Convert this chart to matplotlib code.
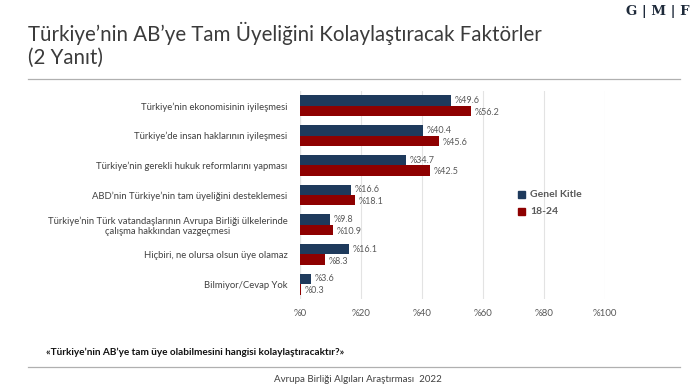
import matplotlib
matplotlib.use("Agg")
import matplotlib.pyplot as plt
import numpy as np

categories = [
    "Türkiye’nin ekonomisinin iyileşmesi",
    "Türkiye’de insan haklarının iyileşmesi",
    "Türkiye’nin gerekli hukuk reformlarını yapması",
    "ABD’nin Türkiye’nin tam üyeliğini desteklemesi",
    "Türkiye’nin Türk vatandaşlarının Avrupa Birliği ülkelerinde\nçalışma hakkından vazgeçmesi",
    "Hiçbiri, ne olursa olsun üye olamaz",
    "Bilmiyor/Cevap Yok",
]
genel_kitle = [49.6, 40.4, 34.7, 16.6, 9.8, 16.1, 3.6]
yas_18_24 = [56.2, 45.6, 42.5, 18.1, 10.9, 8.3, 0.3]
series_names = ["Genel Kitle", "18-24"]
xticks = [0, 20, 40, 60, 80, 100]

plt.rcParams['font.family'] = ['Lato', 'DejaVu Sans']

W, H = 700, 388
fig = plt.figure(figsize=(W/100, H/100), dpi=100)
fig.patch.set_facecolor("white")

navy = "#1e3a5c"
red = "#8e0000"
gray_txt = "#595959"

ax = fig.add_axes([300/W, 1-299/H, 305/W, 208/H])
n = len(categories)
y = np.arange(n)
bh = 0.35
ax.barh(y - bh/2, genel_kitle, height=bh, color=navy, zorder=3)
ax.barh(y + bh/2, yas_18_24, height=bh, color=red, zorder=3)
for i in range(n):
    ax.text(genel_kitle[i] + 1.2, y[i] - bh/2, f"%{genel_kitle[i]}", va="center", ha="left",
            fontsize=6.5, color=gray_txt)
    ax.text(yas_18_24[i] + 1.2, y[i] + bh/2 + 0.05, f"%{yas_18_24[i]}", va="center", ha="left",
            fontsize=6.5, color=gray_txt)
ax.set_ylim(n - 0.5, -0.5)
ax.set_xlim(0, 100)
ax.set_xticks(xticks)
ax.set_xticklabels([f"%{t}" for t in xticks], fontsize=7, color=gray_txt)
ax.set_yticks(y)
ax.set_yticklabels(categories, fontsize=6.8, color="#404040")
ax.tick_params(axis="both", length=0)
ax.tick_params(axis="y", pad=9)
ax.tick_params(axis="x", pad=7)
for lbl in ax.get_yticklabels():
    lbl.set_multialignment("center")
for s in ax.spines.values():
    s.set_visible(False)
ax.grid(axis="x", color="#e3e3e3", linewidth=0.8, zorder=0)
ax.axvline(0, color="#d0d0d0", linewidth=0.8, zorder=1)

# legend
fig.patches.append(plt.Rectangle((518/W, 1-198/H), 7/W, 7/H, transform=fig.transFigure, color=navy))
fig.patches.append(plt.Rectangle((518/W, 1-215/H), 7/W, 7/H, transform=fig.transFigure, color=red))
fig.text(530/W, 1-194.5/H, series_names[0], fontsize=7.5, fontweight="bold", color=gray_txt, va="center")
fig.text(530/W, 1-211.5/H, series_names[1], fontsize=7.5, fontweight="bold", color=gray_txt, va="center")

# title
fig.text(28/W, 1-41/H, "Türkiye’nin AB’ye Tam Üyeliğini Kolaylaştıracak Faktörler",
         fontsize=14.8, color="#3b3b3b", va="baseline", ha="left")
fig.text(28/W, 1-64/H, "(2 Yanıt)",
         fontsize=14.8, color="#3b3b3b", va="baseline", ha="left")
fig.add_artist(plt.Line2D([28/W, 680/W], [1-79/H, 1-79/H], color="#b0b0b0", linewidth=0.9))
fig.text(690/W, 1-12/H, "G | M | F", fontsize=9.5, fontweight="bold", family="DejaVu Serif",
         color="#1e2a3a", ha="right", va="center")

# question and footer
fig.text(46/W, 1-352/H, "«Türkiye’nin AB’ye tam üye olabilmesini hangisi kolaylaştıracaktır?»",
         fontsize=7.2, fontweight="bold", color="#111111", va="center")
fig.add_artist(plt.Line2D([28/W, 680/W], [1-367/H, 1-367/H], color="#b0b0b0", linewidth=0.9))
fig.text(358/W, 1-379/H, "Avrupa Birliği Algıları Araştırması  2022", fontsize=7, color="#404040",
         ha="center", va="center")

fig.savefig("out.png", dpi=100, facecolor="white")
